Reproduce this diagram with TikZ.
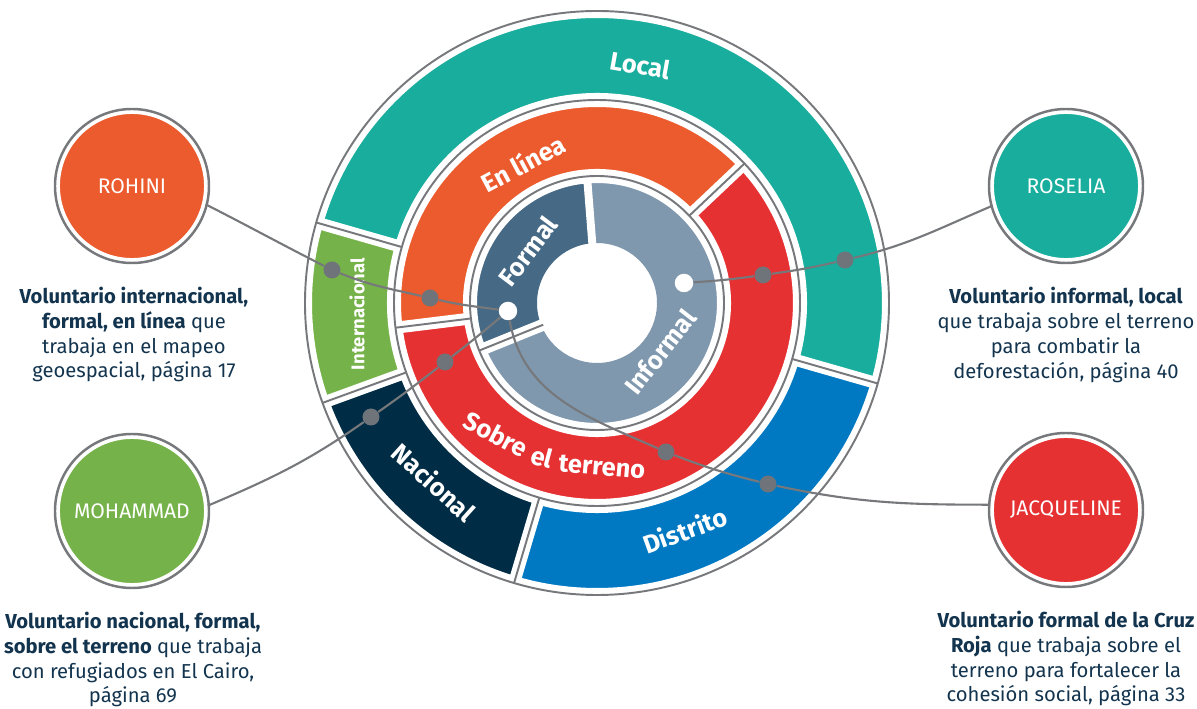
\documentclass[tikz,border=0pt]{standalone}
\usepackage{fontspec}
\setmainfont{Fira Sans}
\usetikzlibrary{positioning}

\definecolor{localc}{HTML}{18AD9D}
\definecolor{interc}{HTML}{76B24A}
\definecolor{nacionc}{HTML}{002D45}
\definecolor{distric}{HTML}{0079C2}
\definecolor{lineac}{HTML}{EB5B2D}
\definecolor{terrenoc}{HTML}{E63133}
\definecolor{formalc}{HTML}{466985}
\definecolor{informalc}{HTML}{7F98AE}
\definecolor{ringgray}{HTML}{76787B}
\definecolor{dotgray}{HTML}{6F747A}
\definecolor{textnavy}{HTML}{13344E}

\newcommand{\ringpart}[5]{%
  \fill[#1] (#2:#4) arc[start angle=#2,end angle=#3,radius=#4] -- (#3:#5) arc[start angle=#3,end angle=#2,radius=#5] -- cycle;}

\begin{document}
\begin{tikzpicture}[x=0.02cm,y=0.02cm,
  ringline/.style={draw=ringgray,line width=1.1pt},
  cutwhite/.style={draw=white,line width=6.8pt},
  link/.style={draw=ringgray,line width=1.2pt},
  gdot/.style={circle,fill=dotgray,inner sep=0pt,minimum size=0.34cm},
  wdot/.style={circle,fill=white,inner sep=0pt,minimum size=0.37cm},
  person/.style={circle,fill=#1,draw=white,line width=2.2pt,minimum size=2.96cm,inner sep=0pt,text=white,font=\fontsize{12}{12}\selectfont},
  seglabel/.style={text=white,font=\bfseries\fontsize{14.5}{16}\selectfont,inner sep=0pt},
  story/.style={text=textnavy,align=center,font=\fontsize{11.5}{14.2}\selectfont,inner sep=0pt}]
\useasboundingbox (-597,-406) rectangle (600,303);

\ringpart{localc}{-16}{164}{203}{292}
\ringpart{interc}{164}{200}{203}{292}
\ringpart{nacionc}{200}{253.5}{203}{292}
\ringpart{distric}{253.5}{344}{203}{292}
\ringpart{lineac}{43.4}{187}{127}{203}
\ringpart{terrenoc}{187}{403.4}{127}{203}
\ringpart{formalc}{94.5}{202}{60}{127}
\ringpart{informalc}{202}{454.5}{60}{127}

\foreach \a/\ri/\ro in {-16/203/292,164/203/292,200/203/292,253.5/203/292,43.4/127/203,187/127/203,202/58/127}
  \draw[cutwhite] (\a:\ri) -- (\a:\ro);
\draw[white,line width=4.5pt] (94.5:58) -- (94.5:129);
\foreach \r in {127,203,292}
  \draw[white,line width=8pt] (0,0) circle (\r);
\foreach \r in {127,203,292}
  \draw[ringline] (0,0) circle (\r);
\foreach \a/\ri/\ro in {-16/203/292,164/203/292,200/203/292,253.5/203/292,43.4/127/203,187/127/203,202/58/127}
  \draw[ringline] (\a:\ri) -- (\a:\ro);

\node[seglabel,rotate=-10] (local) at (43,238) {Local};
\node[seglabel,rotate=28] (enlinea) at (-74,140) {En línea};
\node[seglabel,rotate=-42] (nacional) at (-163,-179) {Nacional};
\node[seglabel,rotate=20] (distrito) at (88,-227) {Distrito};
\node[seglabel,rotate=90,font=\bfseries\fontsize{10.5}{12}\selectfont] (internacional) at (-240,-11) {Internacional};
\node[seglabel,rotate=53] (formal) at (-69,52) {Formal};
\node[seglabel,rotate=52] (informal) at (63,-49) {Informal};
\node[seglabel,rotate=-28] (sobre) at (-101,-131) {Sobre};
\node[seglabel,rotate=-15] (el) at (-55,-154) {el};
\node[seglabel,rotate=-5] (terreno) at (5,-164) {terreno};

\node[gdot] (dint) at (-265,33) {};
\node[gdot] (denl) at (-167,5) {};
\node[wdot] (fdot) at (-89,-8) {};
\node[gdot] (dnac) at (-226,-114) {};
\node[gdot] (dsob) at (-152,-59) {};
\node[gdot] (dloc) at (248,43) {};
\node[gdot] (dsobr) at (166,28) {};
\node[wdot] (idot) at (87,20) {};
\node[gdot] (ddis) at (171,-181) {};
\node[gdot] (dsobj) at (69,-149) {};

\node[person=lineac] (rohini) at (-465,117) {ROHINI};
\node[person=localc] (roselia) at (469,117) {ROSELIA};
\node[person=interc] (mohammad) at (-465,-208) {MOHAMMAD};
\node[person=terrenoc] (jacqueline) at (469,-207) {JACQUELINE};
\foreach \p in {rohini,roselia,mohammad,jacqueline}
  \draw[ringline,line width=1.4pt] (\p.center) circle (77);

\draw[link] (rohini.-14) to[out=-27,in=153] (dint) to[out=-22,in=167] (denl) to[out=-13,in=172] (fdot);
\draw[link] (mohammad.4) to[out=23,in=215] (dnac) to[out=35,in=218] (dsob) to[out=38,in=220] (fdot);
\draw[link] (roselia.195) to[out=203,in=13.5] (dloc) to[out=193,in=8] (dsobr) to[out=188,in=4] (idot);
\draw[link] (jacqueline.176) to[out=180,in=-12] (ddis) to[out=166,in=-21] (dsobj) to[out=156,in=-80] (fdot);

\node[story] (rohinitxt) at (-463,-31.5) {\textbf{Voluntario internacional,}\\\textbf{formal, en línea} que\\trabaja en el mapeo\\geoespacial, página 17};
\node[story] (roseliatxt) at (469,-32) {\textbf{Voluntario informal, local}\\que trabaja sobre el terreno\\para combatir la\\deforestación, página 40};
\node[story] (mohammadtxt) at (-464,-356.5) {\textbf{Voluntario nacional, formal,}\\\textbf{sobre el terreno} que trabaja\\con refugiados en El Cairo,\\página 69};
\node[story] (jacquelinetxt) at (469,-355.5) {\textbf{Voluntario formal de la Cruz}\\\textbf{Roja} que trabaja sobre el\\terreno para fortalecer la\\cohesión social, página 33};
\end{tikzpicture}
\end{document}
